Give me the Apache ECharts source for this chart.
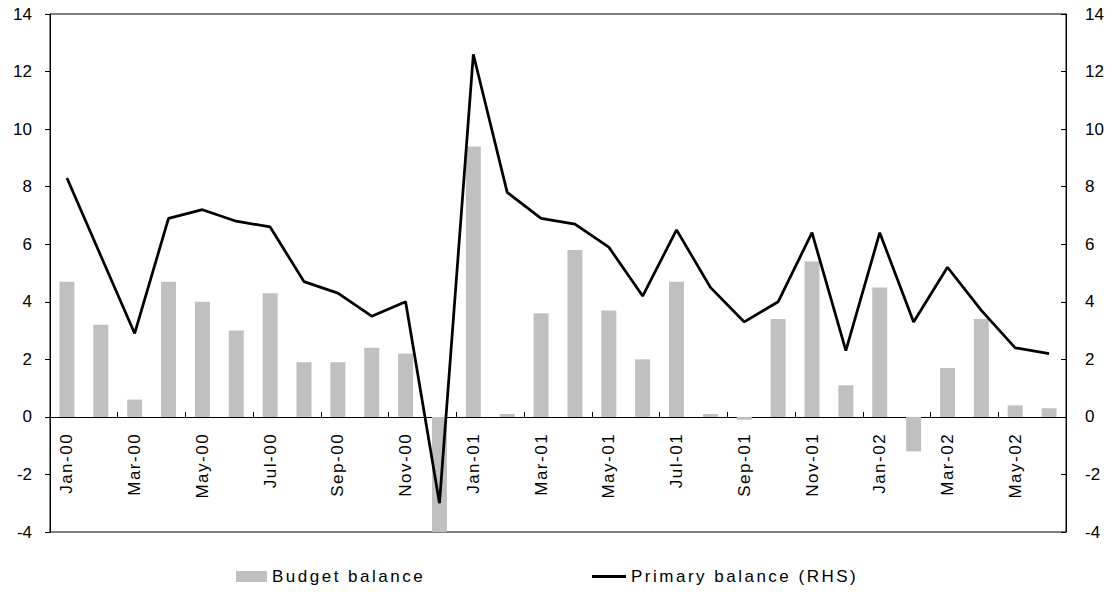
<!DOCTYPE html>
<html>
<head>
<meta charset="utf-8">
<script src="https://cdn.jsdelivr.net/npm/echarts@6/dist/echarts.min.js"></script>
<style>
  html, body { margin: 0; padding: 0; background: #fff; }
  #chart { width: 1112px; height: 592px; }
</style>
</head>
<body>
<div id="chart"></div>
<script>
// Monthly categories, Jan 2000 to Jun 2002
const months = [
  'Jan-00','Feb-00','Mar-00','Apr-00','May-00','Jun-00','Jul-00','Aug-00','Sep-00','Oct-00','Nov-00','Dec-00',
  'Jan-01','Feb-01','Mar-01','Apr-01','May-01','Jun-01','Jul-01','Aug-01','Sep-01','Oct-01','Nov-01','Dec-01',
  'Jan-02','Feb-02','Mar-02','Apr-02','May-02','Jun-02'
];

// Budget balance (left axis, bars)
const budgetBalance = [
  4.7, 3.2, 0.6, 4.7, 4.0, 3.0, 4.3, 1.9, 1.9, 2.4, 2.2, -4.0,
  9.4, 0.1, 3.6, 5.8, 3.7, 2.0, 4.7, 0.1, -0.1, 3.4, 5.4, 1.1,
  4.5, -1.2, 1.7, 3.4, 0.4, 0.3
];

// Primary balance (right axis, line)
const primaryBalance = [
  8.3, 5.6, 2.9, 6.9, 7.2, 6.8, 6.6, 4.7, 4.3, 3.5, 4.0, -3.0,
  12.6, 7.8, 6.9, 6.7, 5.9, 4.2, 6.5, 4.5, 3.3, 4.0, 6.4, 2.3,
  6.4, 3.3, 5.2, 3.7, 2.4, 2.2
];

// Shared value-axis range for both sides
const axisMin = -4;
const axisMax = 14;
const axisStep = 2;

const seriesNames = ['Budget balance', 'Primary balance (RHS)'];

const FONT = "'Liberation Sans', Arial, sans-serif";
const GRID_TOP = 14;
const GRID_BOTTOM = 60;
const PLOT_H = 592 - GRID_TOP - GRID_BOTTOM;
// distance from the bottom edge of the plot up to the zero line
const zeroLift = PLOT_H * (0 - axisMin) / (axisMax - axisMin);

const chart = echarts.init(document.getElementById('chart'), null, { renderer: 'svg' });

const valueAxis = (pos) => ({
  type: 'value',
  position: pos,
  min: axisMin,
  max: axisMax,
  interval: axisStep,
  splitLine: { show: false },
  axisLine: { show: true, lineStyle: { color: '#000', width: 1 } },
  axisTick: { show: true, inside: pos === 'right', length: 5, lineStyle: { color: '#000' } },
  axisLabel: { color: '#000', fontSize: 17, fontFamily: FONT, margin: pos === 'right' ? 19 : 18 }
});

chart.setOption({
  animation: false,
  backgroundColor: '#fff',
  grid: {
    left: 50, right: 46, top: GRID_TOP, bottom: GRID_BOTTOM,
    show: true, borderColor: '#000', borderWidth: 1, backgroundColor: 'transparent'
  },
  legend: [
    {
      data: [seriesNames[0]],
      left: 236, top: 568, padding: 0,
      icon: 'rect', itemWidth: 31, itemHeight: 11,
      textStyle: { color: '#000', fontSize: 17, fontFamily: FONT }
    },
    {
      data: [seriesNames[1]],
      left: 592, top: 568, padding: 0,
      icon: 'rect', itemWidth: 34, itemHeight: 3,
      textStyle: { color: '#000', fontSize: 17, fontFamily: FONT }
    }
  ],
  xAxis: {
    type: 'category',
    data: months,
    boundaryGap: true,
    offset: -zeroLift,
    axisLine: { onZero: false, lineStyle: { color: '#000', width: 1 } },
    axisTick: { show: true, inside: true, length: 5, interval: 1, lineStyle: { color: '#000' } },
    axisLabel: { interval: 1, rotate: 90, color: '#000', fontSize: 17, fontFamily: FONT, margin: 16 },
    splitLine: { show: false }
  },
  yAxis: [valueAxis('left'), valueAxis('right')],
  series: [
    {
      name: seriesNames[0],
      type: 'bar',
      data: budgetBalance,
      yAxisIndex: 0,
      barWidth: 15,
      itemStyle: { color: '#c0c0c0' }
    },
    {
      name: seriesNames[1],
      type: 'line',
      data: primaryBalance,
      yAxisIndex: 1,
      symbol: 'none',
      lineStyle: { color: '#000', width: 2.75 },
      itemStyle: { color: '#000' }
    }
  ]
});

// Wider tracking for the month labels and the legend entries
function applyTracking() {
  document.querySelectorAll('#chart text').forEach((t) => {
    const s = t.textContent;
    if (seriesNames.includes(s)) t.setAttribute('letter-spacing', '2.5px');
    else if (months.includes(s)) t.setAttribute('letter-spacing', '1.5px');
  });
}
applyTracking();
chart.on('finished', applyTracking);
</script>
</body>
</html>
